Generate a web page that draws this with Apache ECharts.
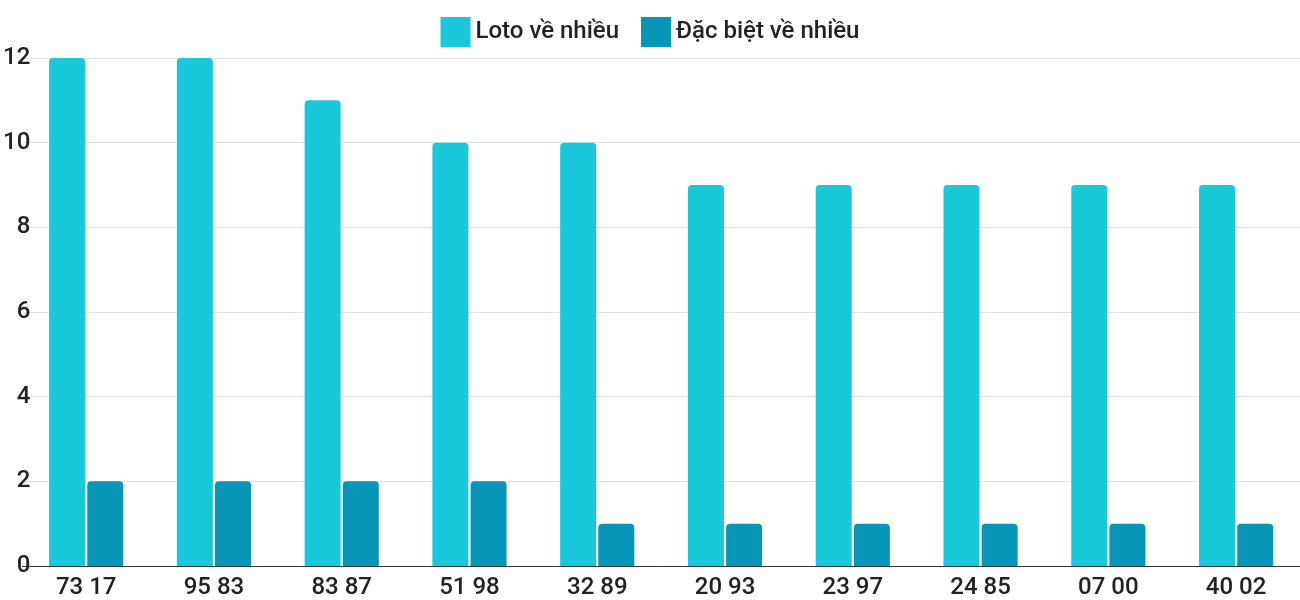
<!DOCTYPE html>
<html>
<head>
<meta charset="utf-8">
<script src="https://cdn.jsdelivr.net/npm/echarts@6/dist/echarts.min.js"></script>
<style>
  html, body { margin: 0; padding: 0; background: #fff; }
  #chart { width: 1300px; height: 600px; }
</style>
</head>
<body>
<div id="chart"></div>
<script>
// data
const categories = ["73 17", "95 83", "83 87", "51 98", "32 89", "20 93", "23 97", "24 85", "07 00", "40 02"];
const lotoValues = [12, 12, 11, 10, 10, 9, 9, 9, 9, 9];
const dacBietValues = [2, 2, 2, 2, 1, 1, 1, 1, 1, 1];

const chart = echarts.init(document.getElementById("chart"));

chart.setOption({
  animation: false,
  textStyle: { fontFamily: "Roboto" },

  legend: {
    top: 12,
    left: "center",
    itemWidth: 30,
    itemHeight: 30,
    itemGap: 22,
    icon: "rect",
    textStyle: { fontSize: 24, color: "#222", fontWeight: 500 },
    data: ["Loto về nhiều", "Đặc biệt về nhiều"],
  },

  grid: {
    left: 20,
    width: 1308,
    top: 58,
    bottom: 34,
  },

  xAxis: {
    type: "category",
    data: categories,
    axisTick: { show: false },
    axisLine: { lineStyle: { color: "#333" } },
    axisLabel: { fontSize: 24, color: "#222", fontWeight: 500, margin: 10, interval: 0 },
  },

  yAxis: {
    type: "value",
    min: 0,
    max: 12,
    interval: 2,
    axisLabel: { fontSize: 24, color: "#222", fontWeight: 500, margin: -8 },
    splitLine: { lineStyle: { color: "#e0e0e0" } },
  },

  series: [
    {
      name: "Loto về nhiều",
      type: "bar",
      data: lotoValues,
      barWidth: 36,
      barGap: "6%",
      itemStyle: { color: "#1ac8db", borderRadius: [4, 4, 0, 0] },
    },
    {
      name: "Đặc biệt về nhiều",
      type: "bar",
      data: dacBietValues,
      barWidth: 36,
      itemStyle: { color: "#0795b8", borderRadius: [4, 4, 0, 0] },
    },
  ],
});
</script>
</body>
</html>
